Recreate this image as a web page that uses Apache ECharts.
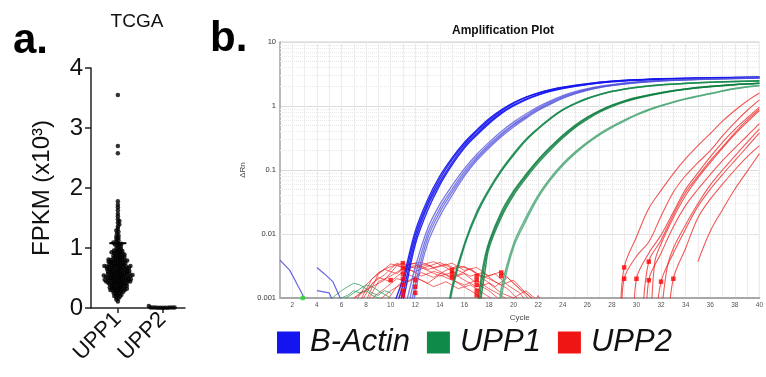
<!DOCTYPE html>
<html>
<head>
<meta charset="utf-8">
<script src="https://cdn.jsdelivr.net/npm/echarts@6/dist/echarts.min.js"></script>
<style>
  html, body { margin: 0; padding: 0; background: #fff; }
  #chart { width: 766px; height: 377px; }
</style>
</head>
<body>
<div id="chart"></div>
<script>
// ---- panel a: TCGA FPKM (x10^3) ----
const groupsA = ['UPP1', 'UPP2'];
const upp1Fpkm = [
  0.11, 0.14, 0.16, 0.18, 0.19,
  0.20, 0.21, 0.22, 0.23, 0.24, 0.25, 0.26, 0.27, 0.27, 0.28, 0.29, 0.29,
  0.30, 0.30, 0.31, 0.31, 0.32, 0.32, 0.33, 0.33, 0.34, 0.34, 0.35, 0.35, 0.36, 0.36, 0.37, 0.37, 0.38, 0.38, 0.39, 0.39,
  0.40, 0.40, 0.41, 0.41, 0.42, 0.42, 0.42, 0.43, 0.43, 0.44, 0.44, 0.44, 0.45, 0.45, 0.45, 0.46, 0.46, 0.46, 0.47, 0.47, 0.47, 0.48, 0.48, 0.48, 0.49, 0.49,
  0.50, 0.50, 0.50, 0.51, 0.51, 0.51, 0.52, 0.52, 0.52, 0.53, 0.53, 0.53, 0.54, 0.54, 0.54, 0.55, 0.55, 0.55, 0.56, 0.56, 0.57, 0.57, 0.57, 0.58, 0.58, 0.58, 0.59, 0.59,
  0.60, 0.60, 0.60, 0.61, 0.61, 0.62, 0.62, 0.62, 0.63, 0.63, 0.64, 0.64, 0.64, 0.65, 0.65, 0.66, 0.66, 0.67, 0.67, 0.67, 0.68, 0.68, 0.69, 0.69, 0.69, 0.69,
  0.70, 0.70, 0.70, 0.71, 0.71, 0.72, 0.72, 0.73, 0.73, 0.74, 0.74, 0.75, 0.75, 0.76, 0.76, 0.77, 0.77, 0.78, 0.78, 0.79, 0.79, 0.79,
  0.80, 0.80, 0.81, 0.81, 0.82, 0.83, 0.83, 0.84, 0.85, 0.85, 0.86, 0.87, 0.87, 0.88, 0.89, 0.89,
  0.90, 0.91, 0.92, 0.92, 0.93, 0.94, 0.95, 0.95, 0.96, 0.97, 0.98, 0.99,
  1.01, 1.02, 1.04, 1.05, 1.06, 1.07, 1.08, 1.09,
  1.11, 1.13, 1.15, 1.17, 1.19, 1.21, 1.24, 1.27, 1.29, 1.32, 1.36, 1.39,
  1.42, 1.45, 1.48, 1.53, 1.57, 1.63, 1.68, 1.72, 1.78,
  2.58, 2.70, 3.55
];
const upp2Fpkm = [0.004, 0.006, 0.008, 0.005, 0.007, 0.009, 0.006, 0.008, 0.010, 0.005, 0.007, 0.035];
const upp1Bar = 1.08;
const fpkmTicks = [0, 1, 2, 3, 4];

// ---- panel b: amplification plot (cycle, delta Rn) ----
const cycleTicks = [2, 4, 6, 8, 10, 12, 14, 16, 18, 20, 22, 24, 26, 28, 30, 32, 34, 36, 38, 40];
const actinEarly = [
  [[10,0.0004],[11,0.0016],[12,0.0095],[13,0.03],[14,0.072],[15,0.145],[16,0.255],[17,0.4],[18,0.6],[19,0.84],[20,1.1],[21,1.36],[22,1.58],[23,1.78],[24,1.95],[26,2.22],[28,2.44],[30,2.57],[33,2.68],[36,2.75],[40,2.82]],
  [[10,0.0006],[11,0.002],[12,0.011],[13,0.034],[14,0.08],[15,0.155],[16,0.27],[17,0.42],[18,0.63],[19,0.87],[20,1.13],[21,1.38],[22,1.6],[23,1.8],[24,1.97],[26,2.24],[28,2.45],[30,2.58],[33,2.69],[36,2.76],[40,2.83]],
  [[10,0.0003],[11,0.0012],[12,0.008],[13,0.027],[14,0.064],[15,0.13],[16,0.235],[17,0.37],[18,0.56],[19,0.79],[20,1.03],[21,1.28],[22,1.51],[23,1.72],[24,1.9],[26,2.18],[28,2.4],[30,2.54],[33,2.66],[36,2.74],[40,2.8]],
  [[10,0.0002],[11,0.0009],[12,0.0068],[13,0.023],[14,0.058],[15,0.12],[16,0.22],[17,0.35],[18,0.53],[19,0.76],[20,1.0],[21,1.25],[22,1.48],[23,1.69],[24,1.87],[26,2.16],[28,2.38],[30,2.52],[33,2.65],[36,2.73],[40,2.79]]
];
const actinLate = [
  [[11,0.0003],[12,0.0022],[13,0.01],[14,0.025],[15,0.05],[16,0.095],[17,0.16],[18,0.25],[19,0.37],[20,0.52],[21,0.7],[22,0.92],[23,1.15],[24,1.4],[25,1.62],[26,1.82],[27,2.0],[28,2.13],[30,2.35],[32,2.5],[35,2.62],[40,2.75]],
  [[11,0.0005],[12,0.003],[13,0.012],[14,0.029],[15,0.057],[16,0.105],[17,0.175],[18,0.27],[19,0.4],[20,0.56],[21,0.75],[22,0.97],[23,1.2],[24,1.45],[25,1.67],[26,1.86],[27,2.03],[28,2.16],[30,2.37],[32,2.52],[35,2.63],[40,2.76]],
  [[11,0.0002],[12,0.0016],[13,0.0085],[14,0.022],[15,0.045],[16,0.087],[17,0.15],[18,0.235],[19,0.35],[20,0.5],[21,0.67],[22,0.88],[23,1.1],[24,1.35],[25,1.58],[26,1.78],[27,1.96],[28,2.1],[30,2.32],[32,2.48],[35,2.6],[40,2.74]],
  [[11.6,0.0003],[12,0.0012],[13,0.007],[14,0.019],[15,0.04],[16,0.08],[17,0.14],[18,0.22],[19,0.33],[20,0.47],[21,0.64],[22,0.85],[23,1.07],[24,1.31],[25,1.54],[26,1.75],[27,1.93],[28,2.08],[30,2.3],[32,2.46],[35,2.59],[40,2.73]]
];
const upp1Early = [
  [[14.5,0.0004],[15,0.0015],[16,0.007],[17,0.022],[18,0.05],[19,0.1],[20,0.18],[21,0.3],[22,0.45],[23,0.65],[24,0.88],[25,1.1],[26,1.32],[27,1.52],[28,1.7],[29,1.84],[30,1.96],[32,2.14],[34,2.26],[36,2.35],[38,2.42],[40,2.47]],
  [[14.6,0.0004],[15,0.0013],[16,0.0065],[17,0.02],[18,0.047],[19,0.095],[20,0.17],[21,0.29],[22,0.44],[23,0.63],[24,0.86],[25,1.08],[26,1.3],[27,1.5],[28,1.68],[29,1.83],[30,1.95],[32,2.13],[34,2.25],[36,2.34],[38,2.41],[40,2.46]]
];
const upp1Mid = [
  [[17,0.0006],[17.5,0.003],[18,0.0075],[19,0.022],[20,0.047],[21,0.085],[22,0.145],[23,0.23],[24,0.35],[25,0.5],[26,0.67],[27,0.85],[28,1.03],[29,1.2],[30,1.36],[32,1.62],[34,1.85],[36,2.03],[38,2.17],[40,2.28]],
  [[17.1,0.0006],[17.6,0.003],[18,0.0068],[19,0.02],[20,0.044],[21,0.08],[22,0.138],[23,0.22],[24,0.335],[25,0.48],[26,0.65],[27,0.83],[28,1.01],[29,1.18],[30,1.34],[32,1.61],[34,1.84],[36,2.02],[38,2.16],[40,2.27]],
  [[17.2,0.0006],[17.7,0.0028],[18,0.006],[19,0.018],[20,0.04],[21,0.074],[22,0.128],[23,0.205],[24,0.315],[25,0.46],[26,0.62],[27,0.8],[28,0.98],[29,1.15],[30,1.31],[32,1.58],[34,1.82],[36,2.0],[38,2.15],[40,2.26]]
];
const upp1Late = [
  [[18.8,0.0005],[19,0.0014],[20,0.007],[21,0.018],[22,0.04],[23,0.075],[24,0.125],[25,0.19],[26,0.27],[27,0.37],[28,0.48],[29,0.6],[30,0.74],[31,0.88],[32,1.02],[34,1.3],[36,1.57],[38,1.88],[40,2.1]],
  [[18.9,0.0005],[19.1,0.0013],[20,0.0062],[21,0.016],[22,0.037],[23,0.07],[24,0.118],[25,0.18],[26,0.26],[27,0.355],[28,0.46],[29,0.58],[30,0.72],[31,0.86],[32,1.0],[34,1.28],[36,1.55],[38,1.86],[40,2.08]]
];
const upp2Curves = [
  [[28.7,0.0005],[29,0.003],[30,0.009],[31,0.025],[32,0.048],[33,0.088],[34,0.15],[35,0.24],[36,0.37],[37,0.58],[38,0.85],[39,1.2],[40,1.6]],
  [[28.8,0.0006],[29,0.002],[30,0.0045],[31,0.0075],[32,0.019],[33,0.045],[34,0.082],[35,0.13],[36,0.2],[37,0.34],[38,0.55],[39,0.85],[40,1.25]],
  [[29.8,0.0005],[30,0.002],[31,0.005],[32,0.0096],[33,0.022],[34,0.05],[35,0.09],[36,0.16],[37,0.27],[38,0.43],[39,0.65],[40,0.96]],
  [[30.5,0.0005],[31,0.0037],[32,0.008],[33,0.02],[34,0.045],[35,0.08],[36,0.14],[37,0.23],[38,0.38],[39,0.6],[40,0.9]],
  [[31.2,0.0005],[31.5,0.0037],[32,0.007],[33,0.018],[34,0.04],[35,0.075],[36,0.13],[37,0.22],[38,0.36],[39,0.56],[40,0.85]],
  [[30.8,0.0004],[31,0.0019],[32,0.005],[33,0.013],[34,0.028],[35,0.05],[36,0.085],[37,0.14],[38,0.22],[39,0.34],[40,0.53]],
  [[32,0.0005],[32.5,0.003],[33,0.006],[34,0.014],[35,0.03],[36,0.058],[37,0.1],[38,0.165],[39,0.27],[40,0.44]],
  [[31.6,0.0004],[32,0.0018],[33,0.005],[34,0.012],[35,0.027],[36,0.05],[37,0.085],[38,0.14],[39,0.23],[40,0.38]],
  [[32.6,0.0004],[33,0.002],[34,0.006],[35,0.018],[36,0.035],[37,0.06],[38,0.1],[39,0.16],[40,0.24]],
  [[35,0.0037],[36,0.011],[37,0.024],[38,0.05],[39,0.095],[40,0.18]]
];
const upp2Noise = [
  [[7,0.0008],[8,0.0016],[9,0.0025],[10,0.0031],[11,0.0035],[12,0.0029],[13,0.0033],[14,0.0026],[15,0.0021],[16,0.0024],[17,0.0017],[18,0.0013],[19,0.0009]],
  [[7.5,0.0009],[8.5,0.002],[9.5,0.0028],[10.5,0.0024],[11.5,0.0034],[12.5,0.0036],[13.5,0.003],[14.5,0.0034],[15.5,0.0027],[16.5,0.0022],[17.5,0.0025],[18.5,0.0018],[19.5,0.0014],[20.5,0.0009]],
  [[8,0.0008],[9,0.0018],[10,0.0022],[11,0.0029],[12,0.0026],[13,0.0031],[14,0.0036],[15,0.0029],[16,0.0031],[17,0.0024],[18,0.002],[19,0.0016],[20,0.0019],[21,0.0012],[22,0.0008]],
  [[8.5,0.001],[9.5,0.0014],[10.5,0.002],[11.5,0.0018],[12.5,0.0025],[13.5,0.0021],[14.5,0.0027],[15.5,0.0032],[16.5,0.0028],[17.5,0.0021],[18.5,0.0024],[19.5,0.0016],[20.5,0.0012],[21,0.0009]],
  [[9,0.0009],[10,0.0013],[11,0.0017],[12,0.0021],[13,0.0017],[14,0.0023],[15,0.0019],[16,0.0016],[17,0.0019],[18,0.0014],[19,0.0011],[20,0.0008]],
  [[7,0.001],[8,0.0013],[9,0.0021],[10,0.0018],[11,0.0026],[12,0.0033],[13,0.0027],[14,0.0022],[15,0.0025],[16,0.0019],[17,0.0015],[18,0.0017],[19,0.0012],[20,0.001],[21,0.0013],[22,0.0009]],
  [[9.5,0.0008],[10.5,0.0015],[11.5,0.0023],[12.5,0.0019],[13.5,0.0015],[14.5,0.0018],[15.5,0.0014],[16.5,0.0016],[17.5,0.0012],[18.5,0.0009]],
  [[6.5,0.0008],[7.5,0.0012],[8.5,0.0015],[9.5,0.0019],[10.5,0.0032],[11.5,0.0028],[12.5,0.0022],[13.5,0.0026],[14.5,0.0023],[15.5,0.0017],[16.5,0.0013],[17.5,0.001],[18.5,0.0008]],
  [[8,0.0009],[9,0.0024],[10,0.0034],[11,0.0031],[12,0.0035],[13,0.0028],[14,0.0031],[15,0.0035],[16,0.0027],[17,0.003],[18,0.0022],[19,0.0026],[20,0.0017],[21,0.0011],[21.5,0.0008]],
  [[7.5,0.0008],[8.5,0.0017],[9.5,0.0023],[10.5,0.0035],[11.5,0.0029],[12.5,0.0033],[13.5,0.0037],[14.5,0.003],[15.5,0.0023],[16.5,0.0029],[17.5,0.002],[18.5,0.0015],[19.5,0.0021],[20.5,0.0014],[21.5,0.001]],
  [[21.7,0.0008],[22,0.0011],[22.3,0.0008]]
];
const actinNoise = [
  [[1,0.0039],[1.8,0.0027],[2.5,0.0015],[3.1,0.0009]],
  [[4,0.003],[4.6,0.0024],[5.3,0.0018],[5.8,0.0011],[6.1,0.0008]],
  [[4,0.0013],[5,0.0012],[5.3,0.0009]]
];
const upp1Noise = [
  [[5,0.0009],[5.5,0.0011],[6,0.0013],[6.5,0.0015],[7,0.0017],[7.5,0.0016],[8,0.0014],[8.5,0.0012],[9,0.0011],[9.5,0.0013],[10,0.0012]],
  [[5.5,0.0008],[6,0.001],[6.5,0.0011],[7,0.0013],[7.5,0.0012],[8,0.0013],[8.5,0.0011],[9,0.001],[9.5,0.0009]],
  [[6,0.0009],[7,0.0012],[8,0.0016],[8.5,0.0015],[9,0.0013],[10,0.001]]
];
const ctMarks = [
  [10,0.0019],[11,0.0035],[11,0.0029],[11,0.0024],[11,0.002],[11,0.0016],[11,0.0013],[11,0.0011],
  [12,0.0019],[12,0.0015],[12,0.0012],[15,0.0027],[15,0.0024],[15,0.0021],
  [17,0.0022],[17,0.0019],[17,0.0016],[17,0.0013],[17,0.0011],[19,0.0025],[19,0.0022],
  [29,0.003],[29,0.002],[30,0.002],[31,0.0037],[31,0.0019],[32,0.0018],[33,0.002]
];
const greenDot = [[2.85, 0.001]];

const FONT = '"Liberation Sans", Arial, sans-serif';
const BLUE = '#1414ee', GREEN = '#0f8a48', RED = '#f01515';

// beeswarm layout (pixel space) for the dot plot
function swarm(values, centre) {
  const pxX = 94 / 2.1, pxY = 60, gap = 2.2, step = 0.3;
  const placed = [];
  return values.slice().sort((a, b) => a - b).map((v, i) => {
    const y = v * pxY;
    const near = placed.filter(p => Math.abs(p[1] - y) < gap);
    let off = 0;
    for (let k = 0; k < 500; k++) {
      const cand = ((k + i) % 2 ? 1 : -1) * Math.ceil(k / 2) * step;
      const ok = near.every(p => {
        const dx = p[0] - cand, dy = p[1] - y;
        return dx * dx + dy * dy >= gap * gap;
      });
      if (ok) { off = cand; break; }
    }
    placed.push([off, y]);
    return [centre + off / pxX, v];
  });
}

function curves(name, lines, color, width, opacity, smooth) {
  return lines.map(d => ({
    name, type: 'line', xAxisIndex: 1, yAxisIndex: 1, data: d, z: 3,
    color, smooth: smooth ? 0.35 : false, showSymbol: false, symbol: 'none',
    lineStyle: { color, width, opacity }, silent: true
  }));
}

const minorGrid = [];
for (let e = -3; e < 1; e++) for (let k = 2; k < 10; k++) minorGrid.push({ yAxis: k * Math.pow(10, e) });

const chart = echarts.init(document.getElementById('chart'));
chart.setOption({
  animation: false,
  backgroundColor: '#fff',
  graphic: [
    { type: 'text', x: 13, y: 41, style: { text: 'a.', font: 'bold 42px ' + FONT, fill: '#000', verticalAlign: 'middle' } },
    { type: 'text', x: 137, y: 22, style: { text: 'TCGA', font: '19px ' + FONT, fill: '#111', align: 'center', verticalAlign: 'middle' } },
    { type: 'text', x: 210, y: 39, style: { text: 'b.', font: 'bold 42px ' + FONT, fill: '#000', verticalAlign: 'middle' } },
    { type: 'text', x: 503, y: 31, style: { text: 'Amplification Plot', font: 'bold 12px ' + FONT, fill: '#111', align: 'center', verticalAlign: 'middle' } }
  ],
  legend: {
    left: 277, top: 327, padding: 0, itemWidth: 23, itemHeight: 22, itemGap: 17,
    icon: 'rect', selectedMode: false,
    data: [
      { name: 'B-Actin', itemStyle: { color: BLUE } },
      { name: 'UPP1', itemStyle: { color: GREEN } },
      { name: 'UPP2', itemStyle: { color: RED } }
    ],
    textStyle: { fontSize: 31, fontStyle: 'italic', fontFamily: FONT, color: '#111', padding: [0, 0, 0, 5] }
  },
  grid: [
    { left: 91, top: 68, width: 94, height: 240 },
    { left: 280, top: 42, width: 487, height: 256, show: true, borderColor: '#cfcfcf', borderWidth: 1 }
  ],
  xAxis: [
    {
      gridIndex: 0, type: 'value', min: 0.4, max: 2.5,
      splitLine: { show: false },
      axisLine: { lineStyle: { color: '#222', width: 1.5 } },
      axisTick: { customValues: [1, 2], length: 5, lineStyle: { color: '#222', width: 1.5 } },
      axisLabel: {
        customValues: [1, 2], rotate: 45, margin: 8, fontSize: 22, fontFamily: FONT, color: '#111',
        formatter: v => groupsA[Math.round(v) - 1]
      }
    },
    {
      gridIndex: 1, type: 'value', min: 1, max: 40, interval: 1,
      name: 'Cycle', nameLocation: 'middle', nameGap: 12,
      nameTextStyle: { fontSize: 8, fontFamily: FONT, color: '#444' },
      axisLine: { lineStyle: { color: '#a8a8a8', width: 2 } },
      axisTick: { show: false },
      axisLabel: {
        fontSize: 6.5, fontFamily: FONT, color: '#555', margin: 4,
        formatter: v => cycleTicks.includes(v) ? String(v) : ''
      },
      splitLine: { lineStyle: { color: '#ececec', width: 1 } }
    }
  ],
  yAxis: [
    {
      gridIndex: 0, type: 'value', min: fpkmTicks[0], max: fpkmTicks[fpkmTicks.length - 1], interval: 1,
      name: 'FPKM (x10³)', nameLocation: 'middle', nameGap: 37, nameRotate: 90,
      nameTextStyle: { fontSize: 24, fontFamily: FONT, color: '#111' },
      splitLine: { show: false },
      axisLine: { show: true, lineStyle: { color: '#222', width: 1.5 } },
      axisTick: { show: true, length: 6, lineStyle: { color: '#222', width: 1.5 } },
      axisLabel: { fontSize: 24, fontFamily: FONT, color: '#111', margin: 8 }
    },
    {
      gridIndex: 1, type: 'log', logBase: 10, min: 0.001, max: 10,
      name: 'ΔRn', nameLocation: 'middle', nameGap: 23, nameRotate: 90,
      nameTextStyle: { fontSize: 8, fontFamily: FONT, color: '#444' },
      axisLine: { show: true, lineStyle: { color: '#a8a8a8', width: 1.5 } },
      axisTick: { show: false },
      axisLabel: { fontSize: 7.5, fontFamily: FONT, color: '#333', margin: 4, formatter: v => String(+(+v).toPrecision(1)) },
      splitLine: { lineStyle: { color: '#dcdcdc', width: 1 } }
    }
  ],
  series: [
    {
      name: 'TCGA UPP1', type: 'scatter', xAxisIndex: 0, yAxisIndex: 0,
      data: swarm(upp1Fpkm, 1), symbolSize: 4.5, itemStyle: { color: '#000' }, silent: true
    },
    {
      name: 'TCGA UPP2', type: 'scatter', xAxisIndex: 0, yAxisIndex: 0,
      data: swarm(upp2Fpkm, 2), symbolSize: 4.5, itemStyle: { color: '#000' }, silent: true
    },
    {
      name: 'TCGA bar', type: 'line', xAxisIndex: 0, yAxisIndex: 0,
      data: [[0.81, upp1Bar], [1.19, upp1Bar]], symbol: 'none',
      lineStyle: { color: '#000', width: 2 }, silent: true
    },
    {
      name: 'grid', type: 'line', xAxisIndex: 1, yAxisIndex: 1, data: [], silent: true, z: 1,
      markLine: {
        silent: true, symbol: 'none', label: { show: false }, z: 1,
        lineStyle: { color: '#e8e8e8', type: 'dotted', width: 1 }, data: minorGrid
      }
    },
    ...curves('UPP2', upp2Noise, '#ee2a2a', 1, 0.7, false),
    ...curves('UPP1', upp1Noise, '#2a9a5a', 1, 0.75, false),
    ...curves('B-Actin', actinNoise, '#4b4bdd', 1.2, 0.85, false),
    ...curves('B-Actin', actinEarly, '#1515ee', 1.4, 0.9, true),
    ...curves('B-Actin', actinLate, '#5050dd', 1.3, 0.75, true),
    ...curves('UPP1', upp1Early, '#1a8a50', 1.5, 0.9, true),
    ...curves('UPP1', upp1Mid, '#0d7f40', 1.4, 0.85, true),
    ...curves('UPP1', upp1Late, '#4fa878', 1.5, 0.85, true),
    ...curves('UPP2', upp2Curves, '#ee2020', 1.1, 0.75, true),
    {
      name: 'Ct', type: 'scatter', xAxisIndex: 1, yAxisIndex: 1, data: ctMarks, z: 4,
      symbol: 'rect', symbolSize: 4.5, itemStyle: { color: '#ff0000' }, silent: true
    },
    {
      name: 'start', type: 'scatter', xAxisIndex: 1, yAxisIndex: 1, data: greenDot, z: 4,
      symbol: 'circle', symbolSize: 5, itemStyle: { color: '#22dd22' }, silent: true
    }
  ]
});
</script>
</body>
</html>
